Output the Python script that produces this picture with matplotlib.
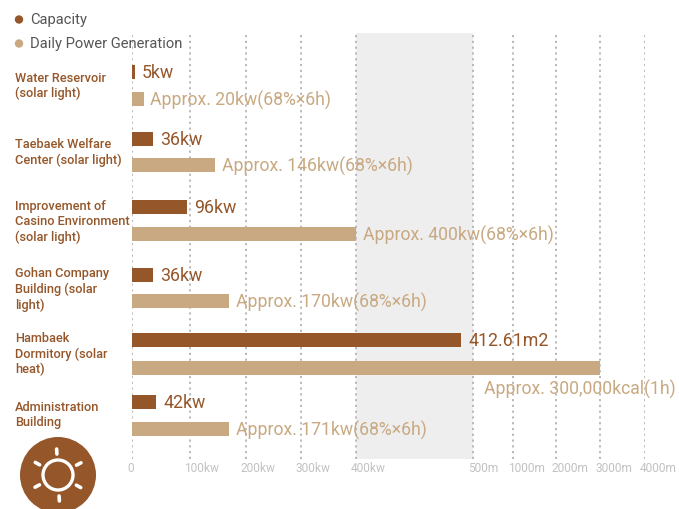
import numpy as np
import matplotlib
matplotlib.use("Agg")
import matplotlib.pyplot as plt
from matplotlib.patches import Circle
from matplotlib.transforms import ScaledTranslation

categories = ["Water Reservoir\n(solar light)", "Taebaek Welfare\nCenter (solar light)",
              "Improvement of\nCasino Environment\n(solar light)", "Gohan Company\nBuilding (solar\nlight)",
              "Hambaek\nDormitory (solar\nheat)", "Administration\nBuilding"]
capacity = [5, 36, 96, 36, 490, 42]
generation = [20, 146, 400, 170, 3000, 171]
capacity_labels = ["5kw", "36kw", "96kw", "36kw", "412.61m2", "42kw"]
generation_labels = ["Approx. 20kw(68%×6h)", "Approx. 146kw(68%×6h)", "Approx. 400kw(68%×6h)",
                     "Approx. 170kw(68%×6h)", "Approx. 300,000kcal(1h)", "Approx. 171kw(68%×6h)"]
tick_values = [0, 100, 200, 300, 400, 500, 1000, 2000, 3000, 4000]
tick_labels = ["0", "100kw", "200kw", "300kw", "400kw", "500m", "1000m", "2000m", "3000m", "4000m"]
legend_names = ["Capacity", "Daily Power Generation"]

BROWN = "#95572a"
TAN = "#c8a981"
FONT = "Roboto"
W, H = 679, 509
plt.rcParams["font.family"] = FONT

fig = plt.figure(figsize=(W / 100, H / 100), dpi=100)
L, R, T, B = 132, 645, 33, 459
ax = fig.add_axes([L / W, 1 - B / H, (R - L) / W, (B - T) / H])

# piecewise axis: tick positions on the page are not linear in value
tick_pos = np.array([0, 57.5, 113.5, 169, 224, 341, 381, 424, 468, 513], float)
tv = np.array(tick_values, float)
ax.set_xscale("function", functions=(lambda v: np.interp(v, tv, tick_pos),
                                     lambda p: np.interp(p, tick_pos, tv)))
ax.set_xlim(0, 4000)
ax.set_ylim(B, T)

cap_y = [72, 139, 207, 275, 340.5, 402]
gen_y = [99, 165, 234, 301, 368, 429]
label_y = [86, 152.5, 222, 289.5, 354, 415]
bar_h = 14

ax.axvspan(400, 500, color="#eeeeee", zorder=0, lw=0)
for v in tick_values:
    ax.axvline(v, color="#b4b4b4", lw=1.3, ls=(0, (1.2, 2.0)), zorder=1)
ax.barh(cap_y, capacity, height=bar_h, color=BROWN, zorder=2)
ax.barh(gen_y, generation, height=bar_h, color=TAN, zorder=2)

px = 72 / 100
for i in range(6):
    ax.annotate(capacity_labels[i], (capacity[i], cap_y[i]), xytext=(7 * px, -1 * px),
                textcoords="offset points", color=BROWN, fontsize=12.8, va="center", zorder=3)
    if generation[i] >= 3000:
        off = (-116 * px, -21.5 * px)
    else:
        off = (7 * px, -1 * px)
    ax.annotate(generation_labels[i], (generation[i], gen_y[i]), xytext=off,
                textcoords="offset points", color=TAN, fontsize=12.7, va="center", zorder=3)
    fig.text(15 / W, 1 - label_y[i] / H, categories[i], color=BROWN, fontsize=9.2,
             fontweight="medium", va="center", ha="left", linespacing=1.24, zorder=5)

for s in ax.spines.values():
    s.set_visible(False)
ax.patch.set_alpha(0)
ax.set_yticks([])
ax.set_xticks(tick_values)
ax.set_xticklabels(tick_labels, color="#c2c2c2", fontsize=8.6, ha="left")
ax.tick_params(axis="x", length=0, pad=2)
shift = ScaledTranslation(-5 / 100, 0, fig.dpi_scale_trans)
for t in ax.get_xticklabels():
    t.set_transform(t.get_transform() + shift)

# overlay in page pixels: legend and sun icon
ov = fig.add_axes([0, 0, 1, 1], zorder=10)
ov.set_xlim(0, W)
ov.set_ylim(H, 0)
ov.axis("off")
for y, c, name in zip([19.5, 43.5], [BROWN, TAN], legend_names):
    ov.add_patch(Circle((19, y), 4.2, color=c, lw=0))
    ov.text(30, y, name, color="#555555", fontsize=10.6, va="center", ha="left")

cx, cy = 58, 475
ov.add_patch(Circle((cx, cy), 38, color=BROWN, lw=0, clip_on=True))
ov.add_patch(Circle((cx, cy), 15, fill=False, ec="white", lw=2.4))
for a in [93, 28, -29, -87, 208, 151]:
    r = np.radians(a)
    ov.plot([cx + 21 * np.cos(r), cx + 26 * np.cos(r)], [cy - 21 * np.sin(r), cy - 26 * np.sin(r)],
            color="white", lw=2.6, solid_capstyle="round")

fig.savefig("out.png", dpi=100)
